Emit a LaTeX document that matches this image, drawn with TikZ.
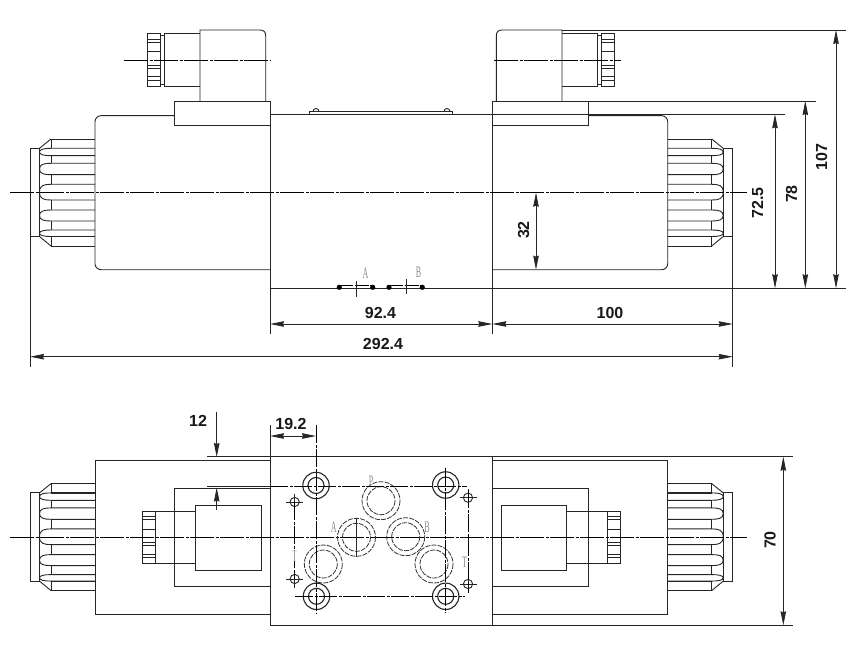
\documentclass[tikz,border=0pt]{standalone}
\usepackage{fontspec}
\setmainfont{Liberation Sans}
\newfontfamily\portfont{Liberation Serif}
\usetikzlibrary{arrows.meta}
\tikzset{
  x=1pt,y=-1pt,
  part/.style={draw=black!85,line width=0.9pt},
  axis/.style={draw=black,line width=0.8pt,dash pattern=on 24pt off 1.5pt on 3pt off 1.5pt},
  holeaxis/.style={draw=black,line width=0.8pt,dash pattern=on 18pt off 1.5pt on 3pt off 1.5pt},
  ext/.style={draw=black!85,line width=0.8pt},
  dimline/.style={draw=black!85,line width=0.8pt,{Stealth[length=14pt,width=5.5pt,inset=1pt]}-{Stealth[length=14pt,width=5.5pt,inset=1pt]}},
  oneway/.style={draw=black!85,line width=0.8pt,-{Stealth[length=14pt,width=5.5pt,inset=1pt]}},
  dimtext/.style={font=\fontsize{16}{16}\selectfont\bfseries,inner sep=0pt,text=black!90},
  porttext/.style={font=\fontsize{16}{16}\portfont,inner sep=0pt,text=black!45,xscale=0.5},
  portring/.style={draw=black!80,line width=0.8pt,dash pattern=on 5pt off 1.2pt},
  knob/.pic={
    \draw[part] (0,-44.4) rectangle (9.5,43.8);
    \draw[part] (21,-53.7) -- (9.5,-44.4) (21,53.3) -- (9.5,43.8);
    \draw[part] (21,-53.7) -- (65,-53.7) (21,53.3) -- (65,53.3);
    \draw[part] (21,-53.7) -- (21,-44.4) (21,-37) -- (21,-29.4) (21,-18) -- (21,-8.4)
      (21,7.3) -- (21,17.3) (21,28.3) -- (21,37.3) (21,43.3) -- (21,53.3);
    \foreach \ya/\yb in {-44.4/-37,-29.4/-18,-8.4/7.3,17.3/28.3,37.3/43.8}{
      \draw[part] (65,\ya) -- (21,\ya) .. controls (14,\ya) and (9.5,\ya+1) .. (9.5,{(\ya+\yb)/2})
        .. controls (9.5,\yb-1) and (14,\yb) .. (21,\yb) -- (65,\yb);
    }
  },
  knurl/.pic={
    \draw[part] (0,-26.3) rectangle (13,26);
    \foreach \yy in {-21,-17.7,-8.3,5,8.3,16.7,20}{\draw[part] (0,\yy) -- (13,\yy);}
  }
}
\begin{document}
\begin{tikzpicture}
\useasboundingbox (0,0) rectangle (850,652);
\fill[white] (0,0) rectangle (850,652);

% ===== front view =====
\pic at (30,192.7) {knob};
\pic[xscale=-1] at (732.7,192.7) {knob};
% coil bodies
\draw[part,rounded corners=6pt] (174.3,115.7) -- (95,115.7) -- (95,269.7) -- (270,269.7);
\draw[part,rounded corners=6pt] (588,115.7) -- (667.7,115.7) -- (667.7,269.7) -- (492.3,269.7);
% terminal bases
\draw[part] (174.3,101) rectangle (270,125);
\draw[part] (492.3,101) rectangle (588,125);
% connectors
\draw[part] (200,101) -- (200,30) -- (259.7,30) .. controls (264,30) and (265.7,32) .. (265.7,36) -- (265.7,101);
\draw[part] (562,101) -- (562,30) -- (502.3,30) .. controls (498,30) and (496.3,32) .. (496.3,36) -- (496.3,101);
\draw[part] (200,33.7) -- (164.3,33.7) -- (164.3,86) -- (200,86);
\draw[part] (562,33.7) -- (597,33.7) -- (597,86) -- (562,86);
\draw[part] (160,35.7) -- (164.3,35.7) (160,84.3) -- (164.3,84.3);
\draw[part] (597,35.7) -- (601,35.7) (597,84.3) -- (601,84.3);
\pic at (147.3,60) {knurl};
\pic[xscale=-1] at (614.3,60) {knurl};
% valve block
\draw[part] (270,101) -- (270,334);
\draw[part] (492.3,101) -- (492.3,334);
\draw[part] (270,114.3) -- (785,114.3);
\draw[part] (270,288.3) -- (846,288.3);
% cover plate
\draw[part] (309,114.3) -- (309,111.5) -- (452,111.5) -- (452,114.3);
\draw[part] (313,111.5) arc[start angle=180,end angle=360,radius=3];
\draw[part] (444,111.5) arc[start angle=180,end angle=360,radius=3];
% port marks
\fill[black] (339.3,287.3) circle (2.6) (372.7,287.3) circle (2.6) (389,287.3) circle (2.6) (422.3,287.3) circle (2.6);
\draw[holeaxis,dash pattern=on 14pt off 1.5pt] (339.3,285.3) -- (372.7,285.3) (389,285.3) -- (422.3,285.3);
\draw[part] (356.3,281) -- (356.3,297) (406,279) -- (406,294);
\node[porttext] (frontA) at (365.5,273.5) {A};
\node[porttext] (frontB) at (418.5,272.5) {B};
% axes
\draw[axis] (10,192.7) -- (747,192.7);
\draw[axis] (124,60) -- (271,60);
\draw[axis] (494,60) -- (621,60);

% extension lines and dimensions, front view
\draw[ext] (30,236.5) -- (30,367) (732.7,236.5) -- (732.7,367);
\draw[ext] (562,30) -- (846,30) (588,101) -- (815.7,101);
\coordinate (d1a) at (270,324); \coordinate (d1b) at (492.3,324); \coordinate (d2b) at (732.7,324);
\coordinate (d3a) at (30,356.7); \coordinate (d3b) at (732.7,356.7);
\draw[dimline] (d1a) -- (d1b);
\draw[dimline] (d1b) -- (d2b);
\draw[dimline] (d3a) -- (d3b);
\draw[dimline] (536,192.7) -- (536,269.7);
\draw[dimline] (775,114.3) -- (775,288.3);
\draw[dimline] (805.3,101) -- (805.3,288.3);
\draw[dimline] (836,30) -- (836,288.3);
\node[dimtext] (t924) at (380.5,313) {92.4};
\node[dimtext] (t100) at (610,312.5) {100};
\node[dimtext] (t2924) at (383,343.5) {292.4};
\node[dimtext,rotate=90] (t32) at (523.5,230) {32};
\node[dimtext,rotate=90] (t725) at (757.7,202.7) {72.5};
\node[dimtext,rotate=90] (t78) at (791.7,194) {78};
\node[dimtext,rotate=90] (t107) at (821.7,156.7) {107};

% ===== top view =====
\pic at (30,537.3) {knob};
\pic[xscale=-1] at (732.7,537.3) {knob};
\draw[part,line width=1.5pt] (51,492.9) -- (95,492.9) (51,581.5) -- (95,581.5);
\draw[part,line width=1.5pt] (667.7,492.9) -- (711.7,492.9) (667.7,581.5) -- (711.7,581.5);
\draw[part] (95,460.3) rectangle (270,614.3);
\draw[part] (492.3,460.3) rectangle (667.5,614.3);
\draw[part] (270,488.7) -- (174.3,488.7) -- (174.3,586) -- (270,586);
\draw[part] (492.3,488.7) -- (588.3,488.7) -- (588.3,586) -- (492.3,586);
\draw[part] (195.7,505.3) rectangle (261,570.7);
\draw[part] (501.7,505.3) rectangle (566.7,570.7);
\draw[part] (195.7,511.3) -- (154.3,511.3) (195.7,563.3) -- (154.3,563.3);
\draw[part] (566.7,511.3) -- (606.7,511.3) (566.7,563.3) -- (606.7,563.3);
\pic at (142,537.3) {knurl};
\pic[xscale=-1] at (620,537.3) {knurl};
% sub-plate
\draw[part] (270,456.7) rectangle (492.3,625.3);
\draw[axis] (10,537.3) -- (747,537.3);
% ports
\foreach \px/\py in {381/500.7,356.5/537.3,405.7/536.7,434/564,323.3/564}{
  \draw[portring] (\px,\py) circle (19);
  \draw[portring] (\px,\py) circle (14);
}
\draw[part] (356.5,518) -- (356.5,557);
% bolts
\foreach \px/\py in {316/485.5,445.7/485,316.5/596.3,445.7/596.3}{
  \draw[part,line width=1.1pt] (\px,\py) circle (13.2);
  \draw[part,line width=1.1pt] (\px,\py) circle (8);
}
% locating holes
\foreach \px/\py in {294.7/502,294.7/579,468/497.7,468/584}{
  \draw[part] (\px,\py) circle (4.6);
  \draw[part] (\px-8.5,\py) -- (\px+8.5,\py) (\px,\py-8.5) -- (\px,\py+8.5);
}
% hole axes
\draw[holeaxis] (270,486.7) -- (467,486.7);
\draw[holeaxis] (295,596.7) -- (465,596.7);
\draw[holeaxis] (445.7,468) -- (445.7,613);
\draw[holeaxis] (316,425) -- (316,613);
\draw[holeaxis] (294.7,502) -- (294.7,579);
\draw[holeaxis] (468,490) -- (468,593);
\node[porttext] (topP) at (371,481) {P};
\node[porttext] (topA) at (333.7,527) {A};
\node[porttext] (topB) at (427,527) {B};
\node[porttext] (topT) at (464.5,562) {T};
\node[porttext,text=black!18] (topS) at (294.5,556.5) {T};

% dimensions, top view
\draw[ext] (207,456.7) -- (270,456.7) (207,486.7) -- (270,486.7);
\draw[ext] (492.3,456.7) -- (792.7,456.7) (492.3,625.3) -- (792.7,625.3);
\draw[ext] (270,425) -- (270,456.7);
\draw[dimline] (270,436) -- (316,436);
\draw[dimline] (783.3,456.7) -- (783.3,625.3);
\coordinate (m1) at (216.7,411.7); \coordinate (m2) at (216.7,457);
\coordinate (m3) at (216.7,510); \coordinate (m4) at (216.7,487.5);
\draw[oneway] (m1) -- (m2);
\draw[oneway] (m3) -- (m4);
\node[dimtext] (t12) at (198,420.5) {12};
\node[dimtext] (t192) at (291,424) {19.2};
\node[dimtext,rotate=90] (t70) at (770,540) {70};
\end{tikzpicture}
\end{document}
